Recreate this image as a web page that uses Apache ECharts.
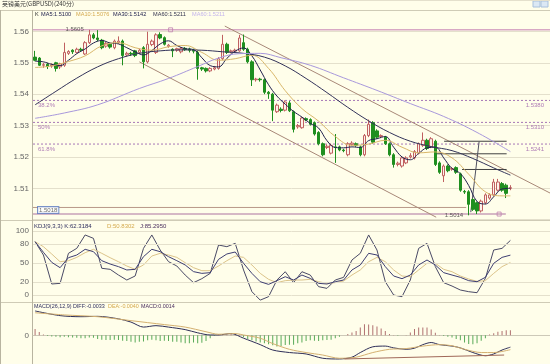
<!DOCTYPE html>
<html><head><meta charset="utf-8">
<script src="https://cdn.jsdelivr.net/npm/echarts@6/dist/echarts.min.js"></script>
<style>html,body{margin:0;padding:0;background:#fffeea;}#c{width:550px;height:364px;}</style>
</head><body><div id="c"></div><script>
// ---------- DATA ----------
const chartTitle = '英镑美元(GBPUSD)(240分)';
const slotCount = 124;
// [open, close, low, high]
const ohlc = [
[1.5518,1.5508,1.5505,1.5538],[1.5515,1.5492,1.5490,1.5518],[1.5492,1.5494,1.5484,1.5500],[1.5495,1.5488,1.5480,1.5500],[1.5490,1.5493,1.5484,1.5498],
[1.5500,1.5482,1.5472,1.5503],[1.5487,1.5497,1.5480,1.5500],[1.5492,1.5533,1.5487,1.5564],[1.5530,1.5536,1.5525,1.5540],[1.5540,1.5535,1.5528,1.5543],
[1.5533,1.5543,1.5530,1.5548],[1.5543,1.5540,1.5536,1.5548],[1.5528,1.5564,1.5525,1.5569],[1.5564,1.5589,1.5560,1.5605],[1.5589,1.5579,1.5575,1.5595],
[1.5579,1.5574,1.5568,1.5604],[1.5572,1.5548,1.5543,1.5576],[1.5553,1.5562,1.5548,1.5566],[1.5559,1.5550,1.5545,1.5562],[1.5548,1.5569,1.5543,1.5574],
[1.5564,1.5569,1.5560,1.5584],[1.5569,1.5523,1.5492,1.5574],[1.5525,1.5530,1.5520,1.5535],[1.5530,1.5528,1.5522,1.5535],[1.5538,1.5523,1.5518,1.5541],
[1.5533,1.5540,1.5528,1.5545],[1.5548,1.5503,1.5482,1.5553],[1.5503,1.5559,1.5498,1.5599],[1.5558,1.5569,1.5553,1.5574],[1.5533,1.5589,1.5528,1.5594],
[1.5590,1.5579,1.5575,1.5597],[1.5580,1.5559,1.5555,1.5584],[1.5552,1.5556,1.5548,1.5560],[1.5543,1.5538,1.5518,1.5546],[1.5540,1.5545,1.5535,1.5548],
[1.5535,1.5545,1.5530,1.5550],[1.5546,1.5542,1.5538,1.5550],[1.5544,1.5540,1.5533,1.5548],[1.5540,1.5537,1.5530,1.5545],[1.5533,1.5482,1.5446,1.5538],
[1.5484,1.5480,1.5474,1.5487],[1.5482,1.5474,1.5469,1.5485],[1.5474,1.5482,1.5470,1.5486],[1.5480,1.5484,1.5476,1.5490],[1.5482,1.5513,1.5478,1.5518],
[1.5513,1.5559,1.5508,1.5589],[1.5559,1.5533,1.5528,1.5564],[1.5535,1.5538,1.5530,1.5542],[1.5537,1.5540,1.5533,1.5545],[1.5538,1.5579,1.5535,1.5589],
[1.5564,1.5543,1.5538,1.5590],[1.5543,1.5503,1.5498,1.5548],[1.5503,1.5446,1.5426,1.5508],[1.5446,1.5448,1.5440,1.5452],[1.5448,1.5446,1.5440,1.5452],
[1.5446,1.5406,1.5400,1.5450],[1.5406,1.5402,1.5385,1.5410],[1.5400,1.5349,1.5314,1.5404],[1.5344,1.5365,1.5340,1.5370],[1.5352,1.5348,1.5342,1.5358],
[1.5349,1.5375,1.5345,1.5380],[1.5372,1.5347,1.5343,1.5378],[1.5344,1.5288,1.5278,1.5348],[1.5296,1.5300,1.5290,1.5305],[1.5293,1.5324,1.5290,1.5328],
[1.5322,1.5318,1.5314,1.5326],[1.5319,1.5304,1.5300,1.5323],[1.5309,1.5273,1.5268,1.5313],[1.5278,1.5242,1.5237,1.5282],[1.5242,1.5207,1.5202,1.5246],
[1.5230,1.5234,1.5225,1.5240],[1.5212,1.5237,1.5208,1.5242],[1.5232,1.5230,1.5181,1.5273],[1.5232,1.5222,1.5218,1.5236],[1.5222,1.5220,1.5215,1.5226],
[1.5207,1.5242,1.5202,1.5247],[1.5240,1.5244,1.5236,1.5250],[1.5242,1.5237,1.5232,1.5246],[1.5232,1.5207,1.5202,1.5236],[1.5207,1.5268,1.5202,1.5273],
[1.5268,1.5304,1.5263,1.5319],[1.5309,1.5247,1.5242,1.5314],[1.5283,1.5263,1.5258,1.5288],[1.5265,1.5268,1.5260,1.5272],[1.5263,1.5242,1.5238,1.5267],
[1.5242,1.5207,1.5202,1.5246],[1.5207,1.5176,1.5166,1.5212],[1.5176,1.5180,1.5170,1.5185],[1.5171,1.5197,1.5166,1.5202],[1.5181,1.5197,1.5177,1.5202],
[1.5200,1.5204,1.5195,1.5212],[1.5197,1.5217,1.5192,1.5222],[1.5212,1.5242,1.5208,1.5246],[1.5237,1.5253,1.5232,1.5278],[1.5253,1.5227,1.5222,1.5258],
[1.5232,1.5258,1.5228,1.5263],[1.5250,1.5176,1.5171,1.5255],[1.5181,1.5151,1.5146,1.5186],[1.5140,1.5171,1.5120,1.5176],[1.5171,1.5156,1.5151,1.5176],
[1.5161,1.5163,1.5156,1.5168],[1.5166,1.5151,1.5146,1.5170],[1.5146,1.5094,1.5089,1.5150],[1.5090,1.5088,1.5082,1.5095],[1.5089,1.5049,1.5014,1.5094],
[1.5064,1.5033,1.5028,1.5068],[1.5054,1.5028,1.5018,1.5058],[1.5028,1.5059,1.5023,1.5064],[1.5054,1.5079,1.5049,1.5084],[1.5069,1.5079,1.5064,1.5084],
[1.5079,1.5120,1.5074,1.5130],[1.5094,1.5120,1.5090,1.5130],[1.5115,1.5094,1.5089,1.5120],[1.5110,1.5084,1.5069,1.5115],[1.5100,1.5102,1.5094,1.5110]
];
// moving averages: [candle index, value]
const ma5 = [[0,1.5505],[2,1.5503],[4,1.5495],[6,1.5491],[8,1.5508],[10,1.5529],[12,1.5544],[14,1.5563],[16,1.5571],[18,1.5563],[20,1.5560],[22,1.5548],[24,1.5535],[26,1.5525],[28,1.5539],[30,1.5560],[32,1.5570],[34,1.5555],[36,1.5545],[38,1.5542],[40,1.5516],[42,1.5491],[44,1.5487],[46,1.5514],[48,1.5537],[50,1.5547],[52,1.5522],[54,1.5477],[56,1.5430],[58,1.5394],[60,1.5368],[62,1.5345],[64,1.5327],[66,1.5307],[68,1.5292],[70,1.5252],[72,1.5230],[74,1.5229],[76,1.5232],[78,1.5230],[80,1.5252],[82,1.5258],[84,1.5265],[86,1.5231],[88,1.5200],[90,1.5191],[92,1.5211],[94,1.5229],[96,1.5231],[98,1.5197],[100,1.5163],[102,1.5147],[104,1.5109],[106,1.5058],[108,1.5050],[110,1.5073],[112,1.5098],[114,1.5100]];
const ma10 = [[0,1.5485],[4,1.5490],[8,1.5504],[12,1.5522],[16,1.5554],[20,1.5564],[24,1.5548],[28,1.5540],[32,1.5551],[36,1.5555],[40,1.5533],[44,1.5508],[48,1.5513],[52,1.5524],[56,1.5482],[60,1.5411],[64,1.5354],[68,1.5314],[72,1.5265],[76,1.5237],[80,1.5241],[84,1.5253],[88,1.5231],[92,1.5213],[96,1.5216],[100,1.5197],[104,1.5145],[108,1.5089],[112,1.5076],[114,1.5076]];
const ma30 = [[0,1.5366],[5,1.5409],[10,1.5451],[15,1.5487],[20,1.5513],[25,1.5530],[30,1.5538],[35,1.5541],[40,1.5540],[45,1.5535],[50,1.5530],[55,1.5518],[60,1.5490],[65,1.5450],[70,1.5405],[75,1.5358],[80,1.5315],[85,1.5278],[90,1.5250],[95,1.5233],[100,1.5220],[105,1.5195],[110,1.5165],[114,1.5142]];
const ma60 = [[0,1.5323],[7,1.5340],[15,1.5366],[25,1.5418],[32,1.5450],[39,1.5488],[44,1.5515],[49,1.5529],[54,1.5530],[59,1.5516],[66,1.5492],[74,1.5452],[82,1.5412],[90,1.5370],[98,1.5329],[106,1.5278],[114,1.5217]];
const kdjK = [[0,83.3],[2,66.7],[4,51],[6,42.7],[8,58.3],[10,62.5],[12,71.4],[14,67.7],[16,53.6],[18,48.4],[20,44.3],[22,39.1],[24,40.1],[26,59.9],[28,71.4],[30,67.7],[32,59.9],[34,53.6],[36,46.9],[38,36.5],[40,33.8],[42,34.9],[44,55.7],[46,64.1],[48,67.2],[50,49.5],[52,33.8],[54,20.8],[56,16.6],[58,22.4],[60,28.6],[62,23.4],[64,31.2],[66,26],[68,18.2],[70,17.2],[72,20.8],[74,23.4],[76,39.1],[78,46.9],[80,65.1],[82,62.5],[84,44.3],[86,29.7],[88,25.5],[90,31.2],[92,46.9],[94,54.7],[96,46.9],[98,34.9],[100,31.2],[102,27.6],[104,22.4],[106,20.8],[108,27.6],[110,49.5],[112,58.8],[114,62.3]];
const kdjD = [[0,83.3],[2,75.5],[4,64],[6,52],[8,53.6],[10,58.8],[12,66.1],[14,71.4],[16,65.1],[18,58.3],[20,52],[22,45.3],[24,40.1],[26,46.9],[28,60.9],[30,65.1],[32,62.5],[34,58.8],[36,50.5],[38,42.7],[40,38],[42,38],[44,45.3],[46,53.6],[48,60.9],[50,58.8],[52,46.9],[54,33.8],[56,24.5],[58,19.3],[60,22.4],[62,23.4],[64,23.4],[66,24.5],[68,20.8],[70,18.2],[72,19.3],[74,21.9],[76,31.2],[78,39.1],[80,52],[82,58.8],[84,52],[86,39.1],[88,29.7],[90,28.6],[92,39.1],[94,49.5],[96,49.5],[98,40.1],[100,36.4],[102,29.7],[104,25],[106,21.3],[108,22.4],[110,33.8],[112,44.3],[114,50.8]];
const kdjJ = [[0,83.3],[2,62.5],[4,17.2],[6,18.2],[8,65.1],[10,72.9],[12,93.8],[14,88.5],[16,41.7],[18,40.1],[20,31.2],[22,23.4],[24,29.7],[26,72.9],[28,93.8],[30,70.3],[32,52.1],[34,45.3],[36,31.2],[38,19.3],[40,25.5],[42,33.8],[44,78.1],[46,75.5],[48,80.7],[50,39.1],[52,5.2],[54,-8],[56,-2.6],[58,23.4],[60,36.4],[62,19.3],[64,36.4],[66,31.2],[68,13],[70,10.4],[72,23.4],[74,27.6],[76,54.7],[78,65.1],[80,93.8],[82,70.3],[84,20.8],[86,0],[88,-2.6],[90,23.4],[92,72.9],[94,80.7],[96,44.3],[98,19.3],[100,14],[102,7.8],[104,5.2],[106,3.6],[108,26],[110,70.3],[112,72.9],[114,85.3]];
const kdjTicks = [0,20,50,80,100];
const macdDiff = [[0,0.0068],[6,0.0055],[11,0.0052],[15,0.0053],[20,0.0046],[23,0.0037],[26,0.0023],[29,0.0027],[32,0.0023],[36,0.0016],[39,0.0007],[42,0.0001],[44,0.0001],[47,0.0005],[50,-0.0008],[54,-0.0026],[57,-0.0041],[61,-0.0048],[65,-0.0052],[69,-0.0064],[73,-0.0066],[76,-0.0061],[78,-0.0048],[81,-0.0032],[84,-0.0030],[86,-0.0035],[89,-0.0039],[91,-0.0036],[93,-0.0026],[95,-0.0020],[97,-0.0026],[100,-0.0030],[102,-0.0035],[105,-0.0048],[108,-0.0057],[110,-0.0052],[112,-0.0041],[114,-0.0033]];
const macdDea = [[0,0.0063],[7,0.0057],[15,0.0052],[23,0.0041],[31,0.0030],[36,0.0023],[41,0.0010],[44,0.0003],[48,0.0005],[50,0.0001],[54,-0.0008],[57,-0.0023],[61,-0.0039],[65,-0.0048],[69,-0.0055],[73,-0.0064],[77,-0.0061],[81,-0.0048],[85,-0.0039],[89,-0.0037],[93,-0.0030],[97,-0.0026],[100,-0.0029],[103,-0.0039],[107,-0.0048],[110,-0.0048],[114,-0.0040]];
const macdHist = [0.0018,0.0009,0.0002,-0.0002,-0.0003,-0.0004,-0.0005,-0.0004,-0.0005,-0.0006,
-0.0007,-0.0008,-0.0008,-0.0006,-0.0007,-0.0010,-0.0012,-0.0013,-0.0013,-0.0012,
-0.0013,-0.0015,-0.0016,-0.0018,-0.0020,-0.0018,-0.0017,-0.0014,-0.0012,-0.0014,
-0.0016,-0.0015,-0.0016,-0.0018,-0.0018,-0.0020,-0.0022,-0.0022,-0.0020,-0.0022,
-0.0021,-0.0016,-0.0008,-0.0002,0.0002,0.0003,0.0002,0.0004,0.0005,0.0002,
-0.0005,-0.0010,-0.0014,-0.0017,-0.0020,-0.0022,-0.0025,-0.0028,-0.0031,-0.0030,
-0.0027,-0.0026,-0.0026,-0.0022,-0.0020,-0.0016,-0.0014,-0.0015,-0.0016,-0.0014,
-0.0013,-0.0012,-0.0008,-0.0004,0.0000,0.0004,0.0008,0.0012,0.0022,0.0031,
0.0030,0.0028,0.0025,0.0019,0.0012,0.0004,0.0001,-0.0001,0.0000,0.0001,
0.0008,0.0018,0.0022,0.0022,0.0022,0.0016,0.0007,0.0001,-0.0002,-0.0004,
-0.0006,-0.0010,-0.0014,-0.0020,-0.0024,-0.0025,-0.0022,-0.0015,-0.0008,0.0002,
0.0006,0.0010,0.0012,0.0014,0.0014];
// drawn studies: [slot position, price]
const fibLevels = [1.5380, 1.5310, 1.5241];
const fibNames = ['38.2%', '50%', '61.8%'];
const rangeHigh = 1.5605, rangeLow = 1.5018, supportLine = 1.5039;
const highMark = [13, 1.5605], lowMark = [104, 1.5014];
const trendA = [[45.5,1.5617],[123.5,1.5085]];
const trendD = [[25.0,1.5503],[96.2,1.5008]];
const hLines = [[[98.1,1.5250],[113.1,1.5250]],[[96.1,1.5210],[113.1,1.5210]],[[102.4,1.5160],[113.1,1.5160]]];
const steepLine = [[104.5,1.5024],[106.5,1.5249]];
const macdTrend = [[74.2,-0.0066],[112.5,-0.0055]];
const legendMain = [['K','#333'],['MA5:1.5100','#22224e'],['MA10:1.5076','#d4a94e'],['MA30:1.5142','#22224e'],['MA60:1.5211','#33334e'],['MA60:1.5211','#c4b4ec']];
const legendKdj = [['KDJ(9,3,3) K:62.3184','#2e2e5e'],['D:50.8302','#d4a94e'],['J:85.2950','#4a2e5e']];
const legendMacd = [['MACD(26,12,9) DIFF:-0.0033','#2e2e5e'],['DEA:-0.0040','#d4a94e'],['MACD:0.0014','#4a2e5e']];

// ---------- CHART ----------
const cats = Array.from({length: slotCount}, (_, i) => String(i + 1));
const FONT = 'Liberation Sans';
const chart = echarts.init(document.getElementById('c'), null, {renderer: 'canvas'});
const gridCol = '#e4e0cc';
function seg(name, pts, color, width, type, xi) {
  return {type: 'line', name, xAxisIndex: xi, yAxisIndex: xi === 3 ? 0 : 2, data: pts, symbol: 'none',
    lineStyle: {color, width, type: type || 'solid'}, silent: true, z: 3};
}
const series = [];
series.push({type: 'candlestick', xAxisIndex: 0, yAxisIndex: 0, data: ohlc, barWidth: 3,
  itemStyle: {color: '#fdf3ea', color0: '#1f8f1f', borderColor: '#c06060', borderColor0: '#1f8f1f', borderWidth: 1}, z: 4});
[[ma5,'#22224e'],[ma10,'#d9b76a'],[ma30,'#33335a'],[ma60,'#a898dc']].forEach(([d,c]) => {
  series.push({type: 'line', xAxisIndex: 0, yAxisIndex: 0, data: d, smooth: 0.4, symbol: 'none', lineStyle: {color: c, width: 1}, z: 5});
});
fibLevels.forEach(v => series.push(seg('fib', [[-0.5, v], [123.5, v]], '#a676b6', 1, [2, 2], 3)));
series.push(seg('hi', [[-0.5, rangeHigh], [123.5, rangeHigh]], '#d8a8c4', 1.5, null, 3));
series.push(seg('lo', [[-0.5, rangeLow], [112.9, rangeLow]], '#c8a0b8', 1.5, null, 3));
series.push(seg('sup', [[-0.5, supportLine], [103.4, supportLine]], '#b89888', 1, null, 3));
series.push(seg('tA', trendA, '#a88878', 1, null, 3));
series.push(seg('tD', trendD, '#a88878', 1, null, 3));
hLines.forEach(h => series.push(seg('h', h, '#404040', 1, null, 3)));
series.push(seg('st', steepLine, '#505060', 1, null, 3));
// labels and markers
const labelData = [];
fibLevels.forEach((v, i) => {
  labelData.push({value: [-0.5, v], label: {formatter: fibNames[i], position: 'right', offset: [0, 5]}});
  labelData.push({value: [123.5, v], label: {formatter: v.toFixed(4), position: 'left', offset: [-1, 5]}});
});
series.push({type: 'scatter', xAxisIndex: 3, yAxisIndex: 0, data: labelData, symbolSize: 0, silent: true, z: 6,
  label: {show: true, color: '#9a5aa8', fontSize: 6, fontFamily: FONT}});
series.push({type: 'scatter', xAxisIndex: 3, yAxisIndex: 0, silent: true, z: 6, symbolSize: 0,
  data: [{value: [-0.5, rangeLow], label: {formatter: rangeLow.toFixed(4), position: 'right', offset: [0, -4],
    backgroundColor: '#ffffff', borderColor: '#5878c0', borderWidth: 1, padding: [0, 1]}}],
  label: {show: true, color: '#444', fontSize: 6, fontFamily: FONT}});
series.push({type: 'scatter', xAxisIndex: 0, yAxisIndex: 0, silent: true, z: 8, symbolSize: 1,
  itemStyle: {color: 'rgba(0,0,0,0)'}, labelLayout: {hideOverlap: false},
  data: [{value: highMark, label: {formatter: highMark[1].toFixed(4), position: 'left', offset: [1, -4]}},
         {value: lowMark, label: {formatter: lowMark[1].toFixed(4), position: 'left', offset: [3, -2]}}],
  label: {show: true, color: '#333', fontSize: 6, fontFamily: FONT}});
series.push({type: 'scatter', xAxisIndex: 3, yAxisIndex: 0, silent: true, z: 6, symbol: 'rect', symbolSize: 4,
  data: [[32.5, rangeHigh], [111.3, rangeLow]], itemStyle: {color: 'rgba(0,0,0,0)', borderColor: '#c080b0', borderWidth: 1}});
// KDJ
[[kdjK,'#3e3e72'],[kdjD,'#dcc48a'],[kdjJ,'#4a4a66']].forEach(([d,c], i) => {
  const s = {type: 'line', xAxisIndex: 1, yAxisIndex: 1, data: d, symbol: 'none', lineStyle: {color: c, width: 1}, z: 5 - i};
  if (i === 0) s.markLine = {silent: true, symbol: 'none', label: {show: false}, lineStyle: {color: gridCol, type: 'solid', width: 1},
    data: kdjTicks.map(v => ({yAxis: v}))};
  series.push(s);
});
// MACD
series.push({type: 'bar', xAxisIndex: 2, yAxisIndex: 2, data: macdHist, barWidth: 1,
  itemStyle: {color: p => p.value >= 0 ? '#b07070' : '#58aa58'}});
series.push({type: 'line', xAxisIndex: 2, yAxisIndex: 2, data: macdDiff, smooth: 0.3, symbol: 'none', lineStyle: {color: '#2e2e58', width: 1}});
series.push({type: 'line', xAxisIndex: 2, yAxisIndex: 2, data: macdDea, smooth: 0.3, symbol: 'none', lineStyle: {color: '#d4b070', width: 1}});
series.push(seg('mt', macdTrend, '#a06858', 1, null, 4));

function legendGraphics(items, xs, y, size) {
  return items.map((it, i) => ({type: 'text', x: xs[i], y, silent: true,
    style: {text: it[0], fill: it[1], font: size + 'px "' + FONT + '"', textVerticalAlign: 'top'}}));
}
const lineEl = (x1, y1, x2, y2, c) => ({type: 'line', silent: true, shape: {x1, y1, x2, y2}, style: {stroke: c, lineWidth: 1}});
const option = {
  animation: false,
  backgroundColor: '#fffeea',
  grid: [
    {left: 33, right: 0, top: -9.2, height: 228.9},
    {left: 33, right: 0, top: 224.6, height: 76.8},
    {left: 33, right: 0, top: 299.5, height: 67.5}
  ],
  xAxis: [
    {type: 'category', gridIndex: 0, data: cats, show: false},
    {type: 'category', gridIndex: 1, data: cats, show: false},
    {type: 'category', gridIndex: 2, data: cats, axisLine: {show: true, onZero: true, lineStyle: {color: '#cdc9b8'}}, axisTick: {show: false}, axisLabel: {show: false}},
    {type: 'value', gridIndex: 0, min: -0.5, max: 123.5, show: false},
    {type: 'value', gridIndex: 2, min: -0.5, max: 123.5, show: false}
  ],
  yAxis: [
    {type: 'value', gridIndex: 0, min: 1.50, max: 1.57, interval: 0.01, axisLine: {show: false}, axisTick: {show: false},
      axisLabel: {margin: 4, fontSize: 8, color: '#666', fontFamily: FONT, formatter: v => (v > 1.505 && v < 1.565) ? v.toFixed(2) : ''},
      splitLine: {lineStyle: {color: gridCol}}},
    {type: 'value', gridIndex: 1, min: -10, max: 110, interval: 10, axisLine: {show: false}, axisTick: {show: false}, splitLine: {show: false},
      axisLabel: {margin: 4, fontSize: 8, color: '#666', fontFamily: FONT, formatter: v => kdjTicks.includes(Math.round(v)) ? String(Math.round(v)) : ''}},
    {type: 'value', gridIndex: 2, min: -0.008, max: 0.010, interval: 0.001, axisLine: {show: false}, axisTick: {show: false}, splitLine: {show: false},
      axisLabel: {margin: 4, fontSize: 8, color: '#666', fontFamily: FONT, formatter: v => Math.abs(v) < 1e-9 ? '0' : ''}}
  ],
  series,
  graphic: [
    lineEl(0, 10.5, 550, 10.5, '#cfcbb6'),
    lineEl(0, 220.5, 550, 220.5, '#cfcbb6'),
    lineEl(0, 302.5, 550, 302.5, '#cfcbb6'),
    lineEl(32.5, 10, 32.5, 364, '#b8b4a0'),
    lineEl(0.5, 10, 0.5, 364, '#b8b4a0'),
    {type: 'text', x: 2, y: 1, silent: true, style: {text: chartTitle, fill: '#333', font: '6px "Noto Sans CJK SC"', textVerticalAlign: 'top'}},
    {type: 'rect', silent: true, shape: {x: 533, y: 1, width: 7, height: 6}, style: {fill: '#dbe8f4', stroke: '#a8c0dc', lineWidth: 1}},
    {type: 'rect', silent: true, shape: {x: 541, y: 1, width: 7, height: 6}, style: {fill: '#dbe8f4', stroke: '#a8c0dc', lineWidth: 1}},
    ...legendGraphics(legendMain, [35, 41, 76, 113, 153, 192], 11.5, 5.6),
    ...legendGraphics(legendKdj, [34, 107, 140], 223, 6),
    ...legendGraphics(legendMacd, [34, 108, 141], 304.5, 5.4)
  ]
};
chart.setOption(option);
</script></body></html>
